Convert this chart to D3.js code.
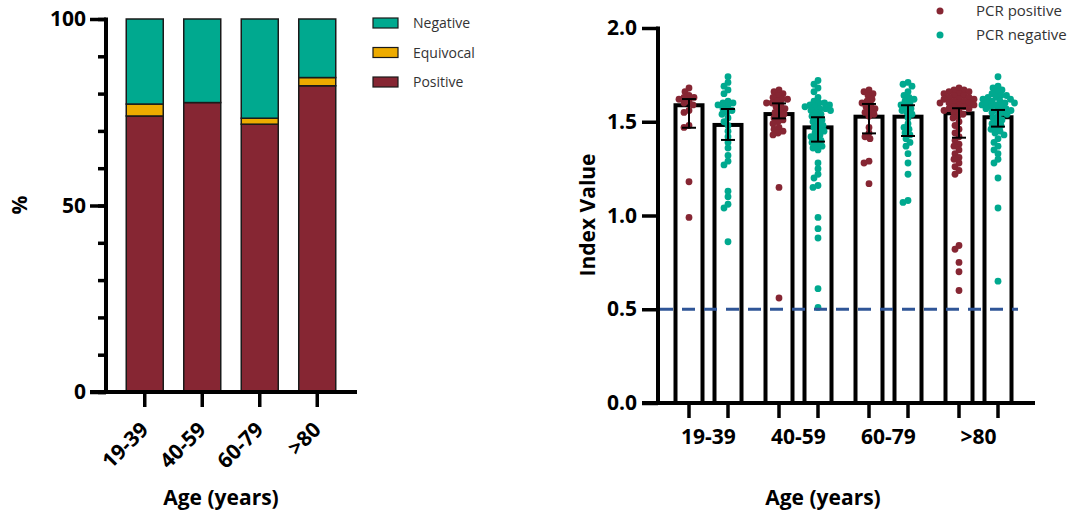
<!DOCTYPE html>
<html><head><meta charset="utf-8">
<script src="https://cdn.jsdelivr.net/npm/d3@7"></script>
<style>body{margin:0;background:#fff} text{font-family:"Open Sans",sans-serif}</style>
</head><body><svg id="c" width="1072" height="513"></svg>
<script>
// ---------- Left chart data ----------
const ageGroups = ["19-39", "40-59", "60-79", ">80"];
const pctPositive = [74.0, 77.6, 71.8, 82.1];
const pctEquivocal = [3.2, 0.0, 1.6, 2.2];
const pctNegative = [22.8, 22.4, 26.6, 15.7];
const stackKeys = ["Positive", "Equivocal", "Negative"];
const stackColors = ["#862633", "#EDAB00", "#00A98F"];
const legendKeys = ["Negative", "Equivocal", "Positive"];
const pctMajorTicks = [0, 50, 100];
const pctMinorTicks = [0, 10, 20, 30, 40, 50, 60, 70, 80, 90, 100];

// ---------- Right chart data ----------
const pcrStatus = ["PCR positive", "PCR negative"];
const pcrColors = ["#862633", "#00A98F"];
const barPos = [1.588, 1.541, 1.527, 1.545];
const barNeg = [1.483, 1.470, 1.527, 1.524];
const errPosLow = [1.468, 1.518, 1.438, 1.415];
const errPosHigh = [1.621, 1.598, 1.595, 1.572];
const errNegLow = [1.403, 1.394, 1.424, 1.474];
const errNegHigh = [1.568, 1.524, 1.588, 1.563];
const indexTicks = [0, 0.5, 1.0, 1.5, 2.0];
const cutoff = 0.5;

const ptsPos1939 = [1.68, 1.66, 1.64, 1.63, 1.63, 1.62, 1.61, 1.60, 1.59, 1.56, 1.55, 1.48, 1.47, 1.18, 0.99];
const ptsNeg1939 = [1.74, 1.71, 1.69, 1.67, 1.65, 1.61, 1.60, 1.60, 1.59, 1.58, 1.57, 1.56, 1.55, 1.54, 1.52, 1.50, 1.48, 1.45, 1.42, 1.39, 1.36, 1.32, 1.29, 1.27, 1.13, 1.10, 1.06, 1.04, 0.86];
const ptsPos4059 = [1.67, 1.66, 1.65, 1.64, 1.63, 1.62, 1.62, 1.61, 1.60, 1.60, 1.59, 1.58, 1.57, 1.56, 1.55, 1.54, 1.53, 1.52, 1.51, 1.50, 1.49, 1.47, 1.46, 1.45, 1.44, 1.43, 1.15, 0.56];
const ptsNeg4059 = [1.72, 1.70, 1.68, 1.66, 1.63, 1.61, 1.60, 1.60, 1.59, 1.59, 1.58, 1.58, 1.57, 1.57, 1.56, 1.56, 1.55, 1.54, 1.53, 1.52, 1.51, 1.50, 1.49, 1.48, 1.47, 1.46, 1.45, 1.44, 1.43, 1.42, 1.41, 1.40, 1.39, 1.38, 1.37, 1.36, 1.35, 1.28, 1.25, 1.22, 1.20, 1.16, 1.15, 0.99, 0.93, 0.88, 0.61, 0.51];
const ptsPos6079 = [1.67, 1.66, 1.65, 1.64, 1.62, 1.61, 1.60, 1.59, 1.58, 1.57, 1.56, 1.55, 1.54, 1.53, 1.47, 1.44, 1.42, 1.41, 1.29, 1.28, 1.17];
const ptsNeg6079 = [1.71, 1.70, 1.69, 1.66, 1.64, 1.63, 1.62, 1.61, 1.60, 1.59, 1.58, 1.57, 1.56, 1.55, 1.54, 1.52, 1.49, 1.47, 1.46, 1.44, 1.43, 1.41, 1.39, 1.37, 1.33, 1.28, 1.22, 1.08, 1.07];
const ptsPos80 = [1.68, 1.67, 1.67, 1.66, 1.66, 1.65, 1.65, 1.64, 1.64, 1.63, 1.63, 1.62, 1.62, 1.62, 1.61, 1.61, 1.60, 1.60, 1.60, 1.59, 1.59, 1.58, 1.58, 1.57, 1.57, 1.56, 1.56, 1.55, 1.54, 1.53, 1.52, 1.50, 1.48, 1.46, 1.44, 1.42, 1.40, 1.38, 1.37, 1.35, 1.33, 1.31, 1.30, 1.28, 1.26, 1.24, 1.22, 0.84, 0.82, 0.75, 0.70, 0.60];
const ptsNeg80 = [1.74, 1.69, 1.68, 1.67, 1.66, 1.65, 1.64, 1.64, 1.63, 1.63, 1.62, 1.62, 1.61, 1.61, 1.60, 1.60, 1.60, 1.59, 1.59, 1.58, 1.58, 1.57, 1.57, 1.56, 1.56, 1.55, 1.55, 1.54, 1.53, 1.52, 1.51, 1.50, 1.49, 1.48, 1.47, 1.46, 1.45, 1.44, 1.43, 1.41, 1.39, 1.37, 1.35, 1.33, 1.30, 1.28, 1.20, 1.04, 0.65];
const ptsPos = [ptsPos1939, ptsPos4059, ptsPos6079, ptsPos80];
const ptsNeg = [ptsNeg1939, ptsNeg4059, ptsNeg6079, ptsNeg80];

const svg = d3.select("#c");

// ================= LEFT CHART =================
const y1 = d3.scaleLinear().domain([0, 100]).range([392, 19]);
const x1 = d3.scaleBand().domain(ageGroups).range([116, 346]).paddingInner(0.3565).paddingOuter(0.3565 / 2);
const rows = ageGroups.map((g, i) => ({group: g, Positive: pctPositive[i], Equivocal: pctEquivocal[i], Negative: pctNegative[i]}));
const stacked = d3.stack().keys(stackKeys)(rows);
const color1 = d3.scaleOrdinal().domain(stackKeys).range(stackColors);

const L = svg.append("g");
L.selectAll("g.layer").data(stacked).join("g").attr("class", "layer")
  .attr("fill", d => color1(d.key))
  .selectAll("rect").data(d => d.filter(s => s[1] - s[0] > 0)).join("rect")
  .attr("x", d => x1(d.data.group))
  .attr("width", x1.bandwidth())
  .attr("y", d => y1(d[1]))
  .attr("height", d => y1(d[0]) - y1(d[1]))
  .attr("stroke", "#1a1a1a").attr("stroke-width", 1.5);

// y axis minor
const ax1minor = L.append("g").attr("transform", "translate(106,0)")
  .call(d3.axisLeft(y1).tickValues(pctMinorTicks).tickSize(8).tickSizeOuter(0).tickFormat(""));
ax1minor.select(".domain").remove();
ax1minor.selectAll(".tick line").attr("stroke", "#000").attr("stroke-width", 3.5);
const ax1major = L.append("g").attr("transform", "translate(106,0)")
  .call(d3.axisLeft(y1).tickValues(pctMajorTicks).tickSize(16).tickSizeOuter(0).tickPadding(4));
ax1major.select(".domain").remove();
ax1major.selectAll(".tick line").attr("stroke", "#000").attr("stroke-width", 3.5);
ax1major.selectAll(".tick text").attr("font-size", 21).attr("font-weight", 700).attr("fill", "#000").attr("font-family", "Open Sans");
L.append("line").attr("x1", 106).attr("x2", 106).attr("y1", y1(100) - 1.5).attr("y2", y1(0) + 2).attr("stroke", "#000").attr("stroke-width", 4);
L.append("line").attr("x1", 90).attr("x2", 357).attr("y1", y1(0)).attr("y2", y1(0)).attr("stroke", "#000").attr("stroke-width", 4);

const ax1x = L.append("g").attr("transform", `translate(0,${y1(0)})`)
  .call(d3.axisBottom(x1).tickSize(15).tickSizeOuter(0).tickFormat(""));
ax1x.select(".domain").remove();
ax1x.selectAll(".tick line").attr("stroke", "#000").attr("stroke-width", 3.5);
L.selectAll("text.xlab").data(ageGroups).join("text").attr("class", "xlab")
  .attr("transform", d => `translate(${x1(d) + x1.bandwidth() / 2 + 5},431) rotate(-45)`)
  .attr("text-anchor", "end").attr("font-size", 21).attr("font-weight", 700).text(d => d);

L.append("text").attr("x", 221).attr("y", 505).attr("text-anchor", "middle")
  .attr("font-size", 21).attr("font-weight", 700).text("Age (years)");
L.append("text").attr("transform", "translate(27,205) rotate(-90)").attr("text-anchor", "middle")
  .attr("font-size", 21).attr("font-weight", 700).text("%");

// legend
const leg1 = L.selectAll("g.leg1").data(legendKeys).join("g").attr("class", "leg1")
  .attr("transform", (d, i) => `translate(373,${18 + i * 29.5})`);
leg1.append("rect").attr("width", 25).attr("height", 10).attr("fill", d => color1(d)).attr("stroke", "#1a1a1a").attr("stroke-width", 1.2);
leg1.append("text").attr("x", 40).attr("y", 10).attr("font-size", 14).attr("fill", "#333").text(d => d);

// ================= RIGHT CHART =================
const y2 = d3.scaleLinear().domain([0, 2]).range([403, 28]);
const xg = d3.scaleBand().domain(ageGroups).range([663.5, 1023.5]);
const xs = d3.scaleBand().domain(pcrStatus).range([-39, 39]).paddingInner(0).paddingOuter(0);
const cx = (g, s) => xg(g) + xg.bandwidth() / 2 + xs(s) + xs.bandwidth() / 2;
const R = svg.append("g");

const barData = [];
ageGroups.forEach((g, i) => {
  barData.push({g, s: pcrStatus[0], v: barPos[i], lo: errPosLow[i], hi: errPosHigh[i], pts: ptsPos[i], c: pcrColors[0]});
  barData.push({g, s: pcrStatus[1], v: barNeg[i], lo: errNegLow[i], hi: errNegHigh[i], pts: ptsNeg[i], c: pcrColors[1]});
});
const bw = 27;
R.selectAll("rect.bar").data(barData).join("rect").attr("class", "bar")
  .attr("x", d => cx(d.g, d.s) - bw / 2).attr("width", bw)
  .attr("y", d => y2(d.v)).attr("height", d => y2(0) - y2(d.v))
  .attr("fill", "#fff").attr("stroke", "#000").attr("stroke-width", 4);

// beeswarm
function swarm(values, center, d) {
  const pts = values.map(v => ({v, y: y2(v)})).sort((a, b) => a.y - b.y);
  const placed = [];
  for (const p of pts) {
    let x = center;
    for (let k = 0; k < 400; k++) {
      const off = (k % 2 === 0 ? 1 : -1) * Math.ceil(k / 2) * 0.5;
      const tx = center + off;
      if (placed.every(q => (q.x - tx) ** 2 + (q.y - p.y) ** 2 >= d * d)) { x = tx; break; }
    }
    p.x = x; placed.push(p);
  }
  return pts;
}
barData.forEach(b => {
  const pts = swarm(b.pts, cx(b.g, b.s), 5.2);
  R.append("g").selectAll("circle").data(pts).join("circle")
    .attr("cx", d => d.x).attr("cy", d => d.y).attr("r", 3.4).attr("fill", b.c);
});

// error bars
const eb = R.selectAll("g.eb").data(barData).join("g").attr("class", "eb").attr("stroke", "#000").attr("stroke-width", 2);
eb.append("line").attr("x1", d => cx(d.g, d.s)).attr("x2", d => cx(d.g, d.s)).attr("y1", d => y2(d.lo)).attr("y2", d => y2(d.hi));
eb.append("line").attr("x1", d => cx(d.g, d.s) - 7).attr("x2", d => cx(d.g, d.s) + 7).attr("y1", d => y2(d.lo)).attr("y2", d => y2(d.lo));
eb.append("line").attr("x1", d => cx(d.g, d.s) - 7).attr("x2", d => cx(d.g, d.s) + 7).attr("y1", d => y2(d.hi)).attr("y2", d => y2(d.hi));

// cutoff line
R.append("line").attr("x1", 660).attr("x2", 1018).attr("y1", y2(cutoff)).attr("y2", y2(cutoff))
  .attr("stroke", "#2F5597").attr("stroke-width", 3).attr("stroke-dasharray", "13,9");

// axes
const ax2 = R.append("g").attr("transform", "translate(658,0)")
  .call(d3.axisLeft(y2).tickValues(indexTicks).tickSize(16).tickSizeOuter(0).tickPadding(5).tickFormat(d3.format(".1f")));
ax2.select(".domain").remove();
ax2.selectAll(".tick line").attr("stroke", "#000").attr("stroke-width", 3.5);
ax2.selectAll(".tick text").attr("font-size", 21).attr("font-weight", 700).attr("fill", "#000").attr("font-family", "Open Sans");
R.append("line").attr("x1", 658).attr("x2", 658).attr("y1", y2(2) - 1.5).attr("y2", y2(0) + 2).attr("stroke", "#000").attr("stroke-width", 4);
R.append("line").attr("x1", 642).attr("x2", 1035).attr("y1", y2(0)).attr("y2", y2(0)).attr("stroke", "#000").attr("stroke-width", 4);
R.selectAll("line.xt").data(barData).join("line").attr("class", "xt")
  .attr("x1", d => cx(d.g, d.s)).attr("x2", d => cx(d.g, d.s)).attr("y1", y2(0)).attr("y2", y2(0) + 15)
  .attr("stroke", "#000").attr("stroke-width", 3.5);
R.selectAll("text.gl").data(ageGroups).join("text").attr("class", "gl")
  .attr("x", d => xg(d) + xg.bandwidth() / 2).attr("y", 444).attr("text-anchor", "middle")
  .attr("font-size", 21).attr("font-weight", 700).text(d => d);
R.append("text").attr("x", 823).attr("y", 505).attr("text-anchor", "middle")
  .attr("font-size", 21).attr("font-weight", 700).text("Age (years)");
R.append("text").attr("transform", "translate(595,215) rotate(-90)").attr("text-anchor", "middle")
  .attr("font-size", 21).attr("font-weight", 700).text("Index Value");

// legend
const leg2 = R.selectAll("g.leg2").data(pcrStatus).join("g").attr("class", "leg2")
  .attr("transform", (d, i) => `translate(940,${11 + i * 24})`);
leg2.append("circle").attr("r", 3.5).attr("fill", (d, i) => pcrColors[i]);
leg2.append("text").attr("x", 36).attr("y", 5).attr("font-size", 15).attr("fill", "#333").text(d => d);
</script></body></html>
